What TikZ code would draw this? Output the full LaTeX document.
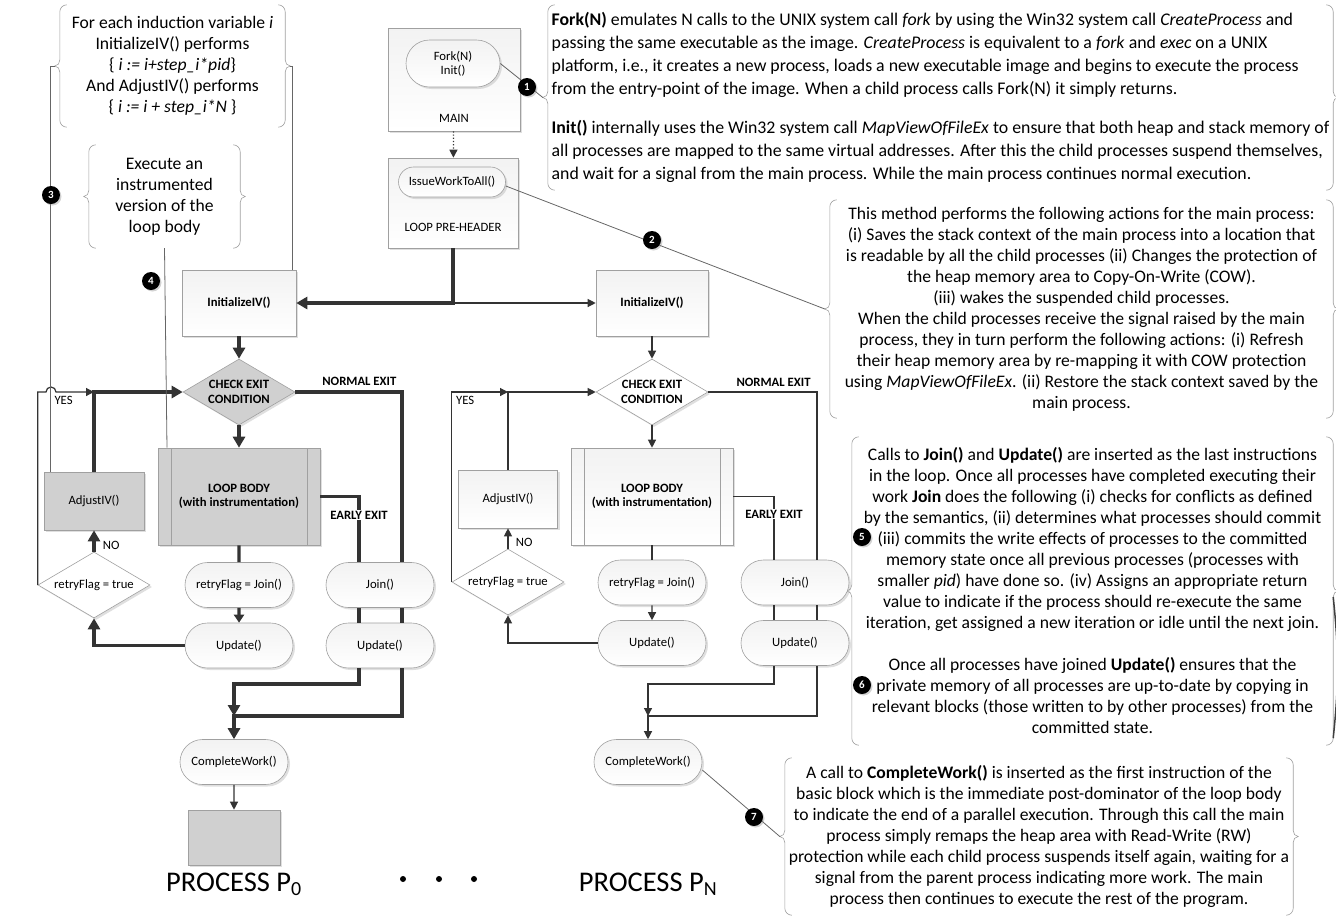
\documentclass[tikz,border=0pt]{standalone}
\usepackage{fontspec}
\setmainfont{Carlito}
\usetikzlibrary{arrows.meta,shapes.geometric,shapes.misc,shadows}

\definecolor{trazo}{HTML}{333333}
\definecolor{borde}{HTML}{A0A0A0}
\definecolor{relleno}{HTML}{D0D0D0}

\newcommand\letrachica{\fontsize{12.7}{14.5}\selectfont}
\newcommand\letranota{\fontsize{17.6}{21}\selectfont}
\newcommand\letraancha{\fontsize{17.8}{23}\selectfont}
\newcommand\letragrande{\fontsize{28.5}{31}\selectfont}

% llaves a ambos lados de una nota
\newcommand\llaves[1]{%
  \draw[llave] ([xshift=7pt]#1.north west) to[out=180,in=90] ([yshift=-7pt]#1.north west)
    -- ([yshift=6pt]#1.west) to[out=-90,in=0] ([xshift=-5pt]#1.west)
    to[out=0,in=90] ([yshift=-6pt]#1.west) -- ([yshift=7pt]#1.south west)
    to[out=-90,in=180] ([xshift=7pt]#1.south west);
  \draw[llave] ([xshift=-7pt]#1.north east) to[out=0,in=90] ([yshift=-7pt]#1.north east)
    -- ([yshift=6pt]#1.east) to[out=-90,in=180] ([xshift=5pt]#1.east)
    to[out=180,in=90] ([yshift=-6pt]#1.east) -- ([yshift=7pt]#1.south east)
    to[out=-90,in=0] ([xshift=-7pt]#1.south east);}

\begin{document}
\begin{tikzpicture}[x=1pt, y=-1pt,
    every node/.style={font=\letrachica, align=center},
    sombra/.style={drop shadow={opacity=.25, shadow xshift=2pt, shadow yshift=-2pt}},
    caja/.style={draw=borde, line width=.6pt, top color=gray!10, bottom color=white, sombra, inner sep=2pt},
    gris/.style={top color=relleno, bottom color=relleno},
    terminal/.style={caja, rounded rectangle, minimum width=112pt, minimum height=45pt},
    rombo/.style={caja, diamond, aspect=1.7, inner sep=-6pt, minimum width=112pt, minimum height=66pt, top color=white},
    proceso/.style={caja, minimum width=162pt, minimum height=97pt, path picture={
        \draw[borde, line width=.6pt] ([xshift=13pt]path picture bounding box.north west) -- ([xshift=13pt]path picture bounding box.south west);
        \draw[borde, line width=.6pt] ([xshift=-13pt]path picture bounding box.north east) -- ([xshift=-13pt]path picture bounding box.south east);}},
    negrita/.style={font=\letrachica\bfseries},
    nota/.style={font=\letranota, inner sep=0pt},
    llave/.style={draw=gray!75, line width=.6pt},
    guia/.style={draw=black!60, line width=.8pt},
    gruesa/.style={draw=trazo, line width=3.3pt},
    fina/.style={draw=trazo, line width=1.2pt},
    punta/.style={-{Triangle[length=11pt, width=12pt]}},
    puntita/.style={-{Triangle[length=8pt, width=8pt]}},
    llamada/.style={circle, fill=black, text=white, font=\fontsize{11}{11}\selectfont\bfseries, inner sep=0pt, minimum size=18pt,
      drop shadow={opacity=.35, shadow xshift=1.5pt, shadow yshift=-1.5pt}}
  ]
  \useasboundingbox (0,0) rectangle (1336,919);

  % notas con llaves
  \node[nota, minimum width=225pt, minimum height=122pt] (notaIV) at (172.5,66) {For each induction variable \textit{i}\\
    InitializeIV() performs\\ \{ \textit{i := i+step\_i*pid}\}\\ And AdjustIV() performs\\ \{ \textit{i := i + step\_i*N} \}};
  \node[nota, minimum width=151pt, minimum height=103pt] (notaCuerpo) at (164.5,196.5) {Execute an\\ instrumented\\ version of the\\ loop body};
  \node[nota, font=\letraancha, align=left, minimum width=785pt, minimum height=185pt] (notaFork) at (940.5,97.5) {%
    \textbf{Fork(N)} emulates N calls to the UNIX system call \textit{fork} by using the Win32 system call \textit{CreateProcess} and\\
    passing the same executable as the image. \textit{CreateProcess} is equivalent to a \textit{fork} and \textit{exec} on a UNIX\\
    platform, i.e., it creates a new process, loads a new executable image and begins to execute the process\\
    from the entry-point of the image. When a child process calls Fork(N) it simply returns.\\[16pt]
    \textbf{Init()} internally uses the Win32 system call \textit{MapViewOfFileEx} to ensure that both heap and stack memory of\\
    all processes are mapped to the same virtual addresses. After this the child processes suspend themselves,\\
    and wait for a signal from the main process. While the main process continues normal execution.};
  \node[nota, minimum width=503pt, minimum height=218pt] (notaIssue) at (1081.5,309) {%
    This method performs the following actions for the main process:\\
    (i) Saves the stack context of the main process into a location that\\
    is readable by all the child processes (ii) Changes the protection of\\
    the heap memory area to Copy-On-Write (COW).\\
    (iii) wakes the suspended child processes.\\
    When the child processes receive the signal raised by the main\\
    process, they in turn perform the following actions: (i) Refresh\\
    their heap memory area by re-mapping it with COW protection\\
    using \textit{MapViewOfFileEx}. (ii) Restore the stack context saved by the\\
    main process.};
  \node[nota, minimum width=481pt, minimum height=308pt] (notaJoin) at (1092.5,591) {%
    Calls to \textbf{Join()} and \textbf{Update()} are inserted as the last instructions\\
    in the loop. Once all processes have completed executing their\\
    work \textbf{Join} does the following (i) checks for conflicts as defined\\
    by the semantics, (ii) determines what processes should commit\\
    (iii) commits the write effects of processes to the committed\\
    memory state once all previous processes (processes with\\
    smaller \textit{pid}) have done so. (iv) Assigns an appropriate return\\
    value to indicate if the process should re-execute the same\\
    iteration, get assigned a new iteration or idle until the next join.\\[21pt]
    Once all processes have joined \textbf{Update()} ensures that the\\
    private memory of all processes are up-to-date by copying in\\
    relevant blocks (those written to by other processes) from the\\
    committed state.};
  \node[nota, minimum width=508pt, minimum height=157pt] (notaFin) at (1039,836.5) {%
    A call to \textbf{CompleteWork()} is inserted as the first instruction of the\\
    basic block which is the immediate post-dominator of the loop body\\
    to indicate the end of a parallel execution. Through this call the main\\
    process simply remaps the heap area with Read-Write (RW)\\
    protection while each child process suspends itself again, waiting for a\\
    signal from the parent process indicating more work. The main\\
    process then continues to execute the rest of the program.};
  \llaves{notaIV}
  \llaves{notaCuerpo}
  \llaves{notaFork}
  \llaves{notaIssue}
  \llaves{notaJoin}
  \llaves{notaFin}
  \draw[line width=1.5pt, black!75] ([yshift=-6pt]notaJoin.east) to[bend left=6] ([yshift=7pt]notaJoin.south east);

  % proceso principal
  \node[caja, minimum width=132pt, minimum height=103pt] (mainbox) at (454,79.5) {};
  \node[terminal, minimum width=98pt, minimum height=47pt] (forkinit) at (453,63.5) {Fork(N)\\Init()};
  \node (mainlbl) at (454,118) {MAIN};
  \node[caja, minimum width=130pt, minimum height=90pt] (preheader) at (453,203) {};
  \node[terminal, minimum width=111pt, minimum height=30pt] (issue) at (452,182) {IssueWorkToAll()};
  \node (prelbl) at (453,227) {LOOP PRE-HEADER};

  % proceso P0
  \node[caja, negrita, minimum width=114pt, minimum height=66pt] (iniL) at (239,303) {InitializeIV()};
  \node[rombo, gris, negrita] (condL) at (239,392) {CHECK EXIT\\CONDITION};
  \node[proceso, gris, negrita] (cuerpoL) at (239,496.5) {LOOP BODY\\(with instrumentation)};
  \node[terminal] (retryL) at (239,585) {retryFlag = Join()};
  \node[terminal] (updL) at (239,645.5) {Update()};
  \node[terminal] (joinL) at (380,585) {Join()};
  \node[terminal] (upd2L) at (380,645.5) {Update()};
  \node[rombo] (siL) at (94,585) {retryFlag = true};
  \node[caja, gris, minimum width=100pt, minimum height=58pt] (ajusteL) at (94,501) {AdjustIV()};
  \node[terminal] (finL) at (234,762) {CompleteWork()};
  \node[caja, gris, minimum width=92pt, minimum height=55pt] (bloqueL) at (234,837.5) {};
  \node[font=\letragrande] (p0) at (234,884) {PROCESS P\textsubscript{0}};

  % proceso PN
  \node[caja, negrita, minimum width=112pt, minimum height=66pt] (iniR) at (652,303) {InitializeIV()};
  \node[rombo, negrita] (condR) at (652,392) {CHECK EXIT\\CONDITION};
  \node[proceso, negrita] (cuerpoR) at (652,496.5) {LOOP BODY\\(with instrumentation)};
  \node[terminal] (retryR) at (652,582.5) {retryFlag = Join()};
  \node[terminal] (updR) at (652,643) {Update()};
  \node[terminal] (joinR) at (795,582.5) {Join()};
  \node[terminal] (upd2R) at (795,643) {Update()};
  \node[rombo] (siR) at (508,582) {retryFlag = true};
  \node[caja, minimum width=99pt, minimum height=58pt] (ajusteR) at (508,499) {AdjustIV()};
  \node[terminal] (finR) at (648,762) {CompleteWork()};
  \node[font=\letragrande] (pN) at (648,884) {PROCESS P\textsubscript{N}};

  % conectores del principal
  \draw[fina, dotted, puntita] (mainbox) -- (preheader);
  \coordinate (reparte) at (preheader.south |- iniL.east);
  \draw[gruesa, punta] (preheader.south) -- (reparte) -- (iniL.east);
  \draw[fina, puntita] (reparte) -- (iniR.west);

  % conectores de P0
  \coordinate (cruce) at (51,392);
  \coordinate (juntaL) at (234,716);
  \draw[gruesa, punta] (iniL) -- (condL);
  \draw[gruesa, punta] (condL) -- (cuerpoL);
  \draw[gruesa] (cuerpoL) -- (retryL);
  \draw[gruesa, -{Triangle[length=8pt, width=10pt]}] (retryL) -- (updL);
  \draw[gruesa, punta] (updL.west) -| (siL.south);
  \draw[gruesa, punta] (siL.north) -- node[pos=.3, right=4pt] {NO} (ajusteL.south);
  \draw[gruesa, punta] (ajusteL.north) |- (condL.west);
  \draw[fina, puntita] (siL.west) -- (siL.west |- condL.west) -- ([xshift=-5pt]cruce) arc[start angle=180, end angle=0, radius=5pt]
    -- node[pos=.2, below] {YES} (ajusteL.north |- condL.west);
  \draw[gruesa] (condL.east) -| node[pos=.3, above=1pt, negrita] {NORMAL EXIT} ([xshift=22pt]joinL.north);
  \draw[gruesa] (cuerpoL.east) -| node[pos=.64, fill=white, inner sep=1pt, negrita] {EARLY EXIT} ([xshift=-21pt]joinL.north);
  \draw[gruesa] ([xshift=-21pt]joinL.south) -- ([xshift=-21pt]upd2L.north);
  \draw[gruesa] ([xshift=22pt]joinL.south) -- ([xshift=22pt]upd2L.north);
  \draw[gruesa, punta] ([xshift=-21pt]upd2L.south) |- (234,684) -- (juntaL);
  \draw[gruesa, punta] ([xshift=22pt]upd2L.south) |- (juntaL) -- (finL.north);
  \draw[fina, puntita] (finL) -- (bloqueL);

  % conectores de PN
  \coordinate (juntaR) at (648,716);
  \draw[fina, puntita] (iniR) -- (condR);
  \draw[fina, puntita] (condR) -- (cuerpoR);
  \draw[fina] (cuerpoR) -- (retryR);
  \draw[fina, puntita] (retryR) -- (updR);
  \draw[fina, puntita] (updR.west) -| (siR.south);
  \draw[fina, puntita] (siR.north) -- node[pos=.3, right=4pt] {NO} (ajusteR.south);
  \draw[fina, puntita] (ajusteR.north) |- (condR.west);
  \draw[fina, puntita] (siR.west) |- node[pos=.62, below] {YES} (ajusteR.north |- condR.west);
  \draw[fina] (condR.east) -| node[pos=.3, above=1pt, negrita] {NORMAL EXIT} ([xshift=22pt]joinR.north);
  \draw[fina] (cuerpoR.east) -| node[pos=.64, fill=white, inner sep=1pt, negrita] {EARLY EXIT} ([xshift=-21pt]joinR.north);
  \draw[fina] ([xshift=-21pt]joinR.south) -- ([xshift=-21pt]upd2R.north);
  \draw[fina] ([xshift=22pt]joinR.south) -- ([xshift=22pt]upd2R.north);
  \draw[fina, puntita] ([xshift=-21pt]upd2R.south) |- (648,684) -- (juntaR);
  \draw[fina, puntita] ([xshift=22pt]upd2R.south) |- (juntaR) -- (finR.north);

  % guias de las notas
  \draw[guia] (forkinit.east) -- ([xshift=-5pt]notaFork.west);
  \draw[guia] ([yshift=-4pt]issue.east) -- ([xshift=-5pt]notaIssue.west);
  \draw[guia] ([yshift=-8pt]finR.east) -- ([xshift=-5pt]notaFin.west);
  \draw[guia] ([xshift=-5pt]notaIV.west) -| ([xshift=7pt]ajusteL.north west);
  \draw[guia] ([xshift=5pt]notaIV.east) -| ([xshift=-4pt]iniL.north east);
  \draw[guia] (notaCuerpo.south) -- ([xshift=-72pt]cuerpoL.north);

  % llamadas numeradas
  \node[llamada] (c1) at (527,87) {1};
  \node[llamada] (c2) at (652,240) {2};
  \node[llamada] (c3) at (51,195) {3};
  \node[llamada] (c4) at (151,281) {4};
  \node[llamada] (c5) at (862,537) {5};
  \node[llamada] (c6) at (862,685) {6};
  \node[llamada] (c7) at (754,817) {7};

  \foreach \x in {403,439,474}
    \fill[black] (\x,879) circle[radius=3pt];
\end{tikzpicture}
\end{document}
